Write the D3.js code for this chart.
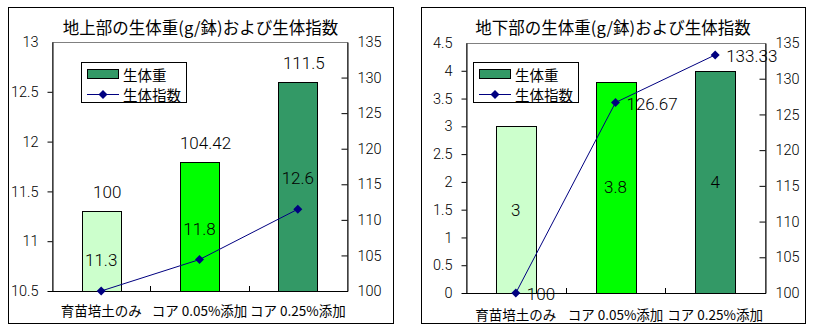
<!DOCTYPE html>
<html>
<head>
<meta charset="utf-8">
<script src="https://cdn.jsdelivr.net/npm/d3@7"></script>
<style>
  html, body { margin: 0; padding: 0; background: #fff; }
  svg { display: block; }
  text { font-family: "Liberation Sans", "Noto Sans CJK JP", sans-serif; fill: #000; }
  .num { font-family: "Roboto", "Liberation Sans", sans-serif; font-weight: 300; }
  .jp { font-family: "Noto Sans CJK JP", sans-serif; }
</style>
</head>
<body>
<svg id="chart" width="813" height="332"></svg>
<script>
// Treatments shared by both panels
const categories = ["育苗培土のみ", "コア 0.05%添加", "コア 0.25%添加"];

// Above-ground part: fresh weight (g/pot) and growth index
const shootWeight = [11.3, 11.8, 12.6];
const shootIndex = [100, 104.42, 111.5];
const shootWeightTicks = [10.5, 11, 11.5, 12, 12.5, 13];

// Below-ground part: fresh weight (g/pot) and growth index
const rootWeight = [3, 3.8, 4];
const rootIndex = [100, 126.67, 133.33];
const rootWeightTicks = [0, 0.5, 1, 1.5, 2, 2.5, 3, 3.5, 4, 4.5];

// Secondary axis for the growth index
const indexTicks = [100, 105, 110, 115, 120, 125, 130, 135];

const seriesNames = ["生体重", "生体指数"];
const barColors = ["#CCFFCC", "#00FF00", "#339966"];
const legendBarColor = "#339966";
const lineColor = "#000080";

const svg = d3.select("#chart");

function diamondPath(cx, cy, r) {
  return `M${cx},${cy - r}L${cx + r},${cy}L${cx},${cy + r}L${cx - r},${cy}Z`;
}

function drawPanel(cfg) {
  const g = svg.append("g");
  const p = cfg.plot;

  // Outer chart frame
  g.append("rect")
    .attr("x", cfg.frame[0] + 0.5).attr("y", cfg.frame[1] + 0.5)
    .attr("width", cfg.frame[2] - cfg.frame[0]).attr("height", cfg.frame[3] - cfg.frame[1])
    .attr("fill", "#fff").attr("stroke", "#000").attr("stroke-width", 1);

  // Title
  g.append("text")
    .attr("class", "jp")
    .attr("x", (cfg.frame[0] + cfg.frame[2]) / 2)
    .attr("y", cfg.titleY)
    .attr("text-anchor", "middle")
    .attr("dominant-baseline", "central")
    .attr("font-size", 16.5)
    .text(cfg.title);

  const x = d3.scaleBand()
    .domain(categories)
    .range([p.left, p.right])
    .paddingInner(0.6)
    .paddingOuter(0.3);
  const step = x.step();
  const cx = c => x(c) + x.bandwidth() / 2;

  const wTicks = cfg.weightTicks;
  const yW = d3.scaleLinear()
    .domain([wTicks[0], wTicks[wTicks.length - 1]])
    .range([p.bottom, p.top]);
  const yI = d3.scaleLinear()
    .domain([indexTicks[0], indexTicks[indexTicks.length - 1]])
    .range([p.bottom, p.top]);

  // Plot area outline (grey), axes drawn over it in black
  g.append("rect")
    .attr("x", p.left + 0.5).attr("y", p.top + 0.5)
    .attr("width", p.right - p.left).attr("height", p.bottom - p.top)
    .attr("fill", "none").attr("stroke", "#808080");

  // Bars
  g.selectAll(".bar")
    .data(categories)
    .join("rect")
    .attr("x", c => Math.round(x(c)) + 0.5)
    .attr("y", (c, i) => Math.round(yW(cfg.weight[i])) + 0.5)
    .attr("width", Math.round(x.bandwidth()))
    .attr("height", (c, i) => Math.round(p.bottom - yW(cfg.weight[i])))
    .attr("fill", (c, i) => barColors[i])
    .attr("stroke", "#000");

  // Left axis
  const axL = g.append("g")
    .attr("transform", `translate(${p.left + 0.5},0)`)
    .call(d3.axisLeft(yW).tickValues(wTicks).tickSize(5).tickSizeOuter(0).tickPadding(9)
      .tickFormat(d => String(d)));
  // Right axis with inward ticks
  const axR = g.append("g")
    .attr("transform", `translate(${p.right + 0.5},0)`)
    .call(d3.axisRight(yI).tickValues(indexTicks).tickSizeInner(-6).tickSizeOuter(0).tickPadding(10)
      .tickFormat(d => String(d)));
  [axL, axR].forEach(a => {
    a.selectAll("text").attr("class", "num").attr("font-size", 14.5);
    a.selectAll("line").attr("stroke", "#000");
    a.select(".domain").attr("stroke", "#000");
    a.selectAll(".tick").filter(d => d === wTicks[wTicks.length - 1] || d === indexTicks[indexTicks.length - 1])
      .select("line").remove();
  });

  // Category axis
  g.append("line")
    .attr("x1", p.left).attr("x2", p.right + 1)
    .attr("y1", p.bottom + 0.5).attr("y2", p.bottom + 0.5)
    .attr("stroke", "#000");
  g.selectAll(".cattick")
    .data(categories.slice(1))
    .join("line")
    .attr("x1", c => Math.round(x(c) - step * 0.3) + 0.5)
    .attr("x2", c => Math.round(x(c) - step * 0.3) + 0.5)
    .attr("y1", p.bottom).attr("y2", p.bottom - 5)
    .attr("stroke", "#000");
  g.selectAll(".catlabel")
    .data(categories)
    .join("text")
    .attr("class", "jp")
    .attr("x", c => cx(c))
    .attr("y", p.bottom + cfg.catLabelGap)
    .attr("text-anchor", "middle")
    .attr("dominant-baseline", "central")
    .attr("font-size", 13.5)
    .text(c => c);

  // Growth index line with diamond markers
  const line = d3.line()
    .x((d, i) => cx(categories[i]))
    .y(d => yI(d));
  g.append("path")
    .datum(cfg.index)
    .attr("d", line)
    .attr("fill", "none")
    .attr("stroke", lineColor)
    .attr("stroke-width", 1);
  g.selectAll(".marker")
    .data(cfg.index)
    .join("path")
    .attr("d", (d, i) => diamondPath(cx(categories[i]), yI(d), 4.5))
    .attr("fill", lineColor);

  // Data labels
  const idxLabels = g.selectAll(".idxlabel")
    .data(cfg.index)
    .join("text")
    .attr("class", "num")
    .attr("font-size", 17)
    .attr("dominant-baseline", "central")
    .text(d => String(d));
  const wLabels = g.selectAll(".wlabel")
    .data(cfg.weight)
    .join("text")
    .attr("class", "num")
    .attr("font-size", 17)
    .attr("text-anchor", "middle")
    .attr("dominant-baseline", "central")
    .text(d => String(d));

  if (cfg.labelStyle === "stacked") {
    // index value floats above each bar, weight value sits just above the marker
    idxLabels
      .attr("text-anchor", "middle")
      .attr("x", (d, i) => cx(categories[i]) + 6)
      .attr("y", (d, i) => yW(cfg.weight[i]) - 19);
    wLabels
      .attr("x", (d, i) => cx(categories[i]))
      .attr("y", (d, i) => yI(cfg.index[i]) - 31);
  } else {
    // index value to the right of the marker, weight value centred in the bar
    idxLabels
      .attr("text-anchor", "start")
      .attr("x", (d, i) => cx(categories[i]) + 11)
      .attr("y", d => yI(d) + 1);
    wLabels
      .attr("x", (d, i) => cx(categories[i]))
      .attr("y", (d, i) => (yW(cfg.weight[i]) + p.bottom) / 2);
  }

  // Legend
  const lg = g.append("g").attr("transform", `translate(${p.left + cfg.legend[0]},${p.top + cfg.legend[1]})`);
  lg.append("rect")
    .attr("x", 0.5).attr("y", 0.5).attr("width", 105).attr("height", 40)
    .attr("fill", "#fff").attr("stroke", "#000");
  lg.append("rect")
    .attr("x", 6.5).attr("y", 7.5).attr("width", 31).attr("height", 9)
    .attr("fill", legendBarColor).attr("stroke", "#000");
  lg.append("line")
    .attr("x1", 6).attr("x2", 38).attr("y1", 32.5).attr("y2", 32.5)
    .attr("stroke", lineColor);
  lg.append("path")
    .attr("d", diamondPath(22, 32.5, 4.5))
    .attr("fill", lineColor);
  lg.selectAll(".lgtext")
    .data(seriesNames)
    .join("text")
    .attr("class", "jp")
    .attr("x", 42)
    .attr("y", (d, i) => i === 0 ? 12 : 32.5)
    .attr("dominant-baseline", "central")
    .attr("font-size", 14.5)
    .text(d => d);
}

drawPanel({
  frame: [8, 7, 393, 323],
  plot: { left: 52, right: 347, top: 42, bottom: 291 },
  title: "地上部の生体重(g/鉢)および生体指数",
  titleY: 27,
  weight: shootWeight,
  index: shootIndex,
  weightTicks: shootWeightTicks,
  legend: [29, 20],
  catLabelGap: 19,
  labelStyle: "stacked"
});

drawPanel({
  frame: [421, 7, 805, 323],
  plot: { left: 466, right: 765, top: 43, bottom: 293 },
  title: "地下部の生体重(g/鉢)および生体指数",
  titleY: 27,
  weight: rootWeight,
  index: rootIndex,
  weightTicks: rootWeightTicks,
  legend: [7, 19],
  catLabelGap: 21,
  labelStyle: "beside"
});
</script>
</body>
</html>
